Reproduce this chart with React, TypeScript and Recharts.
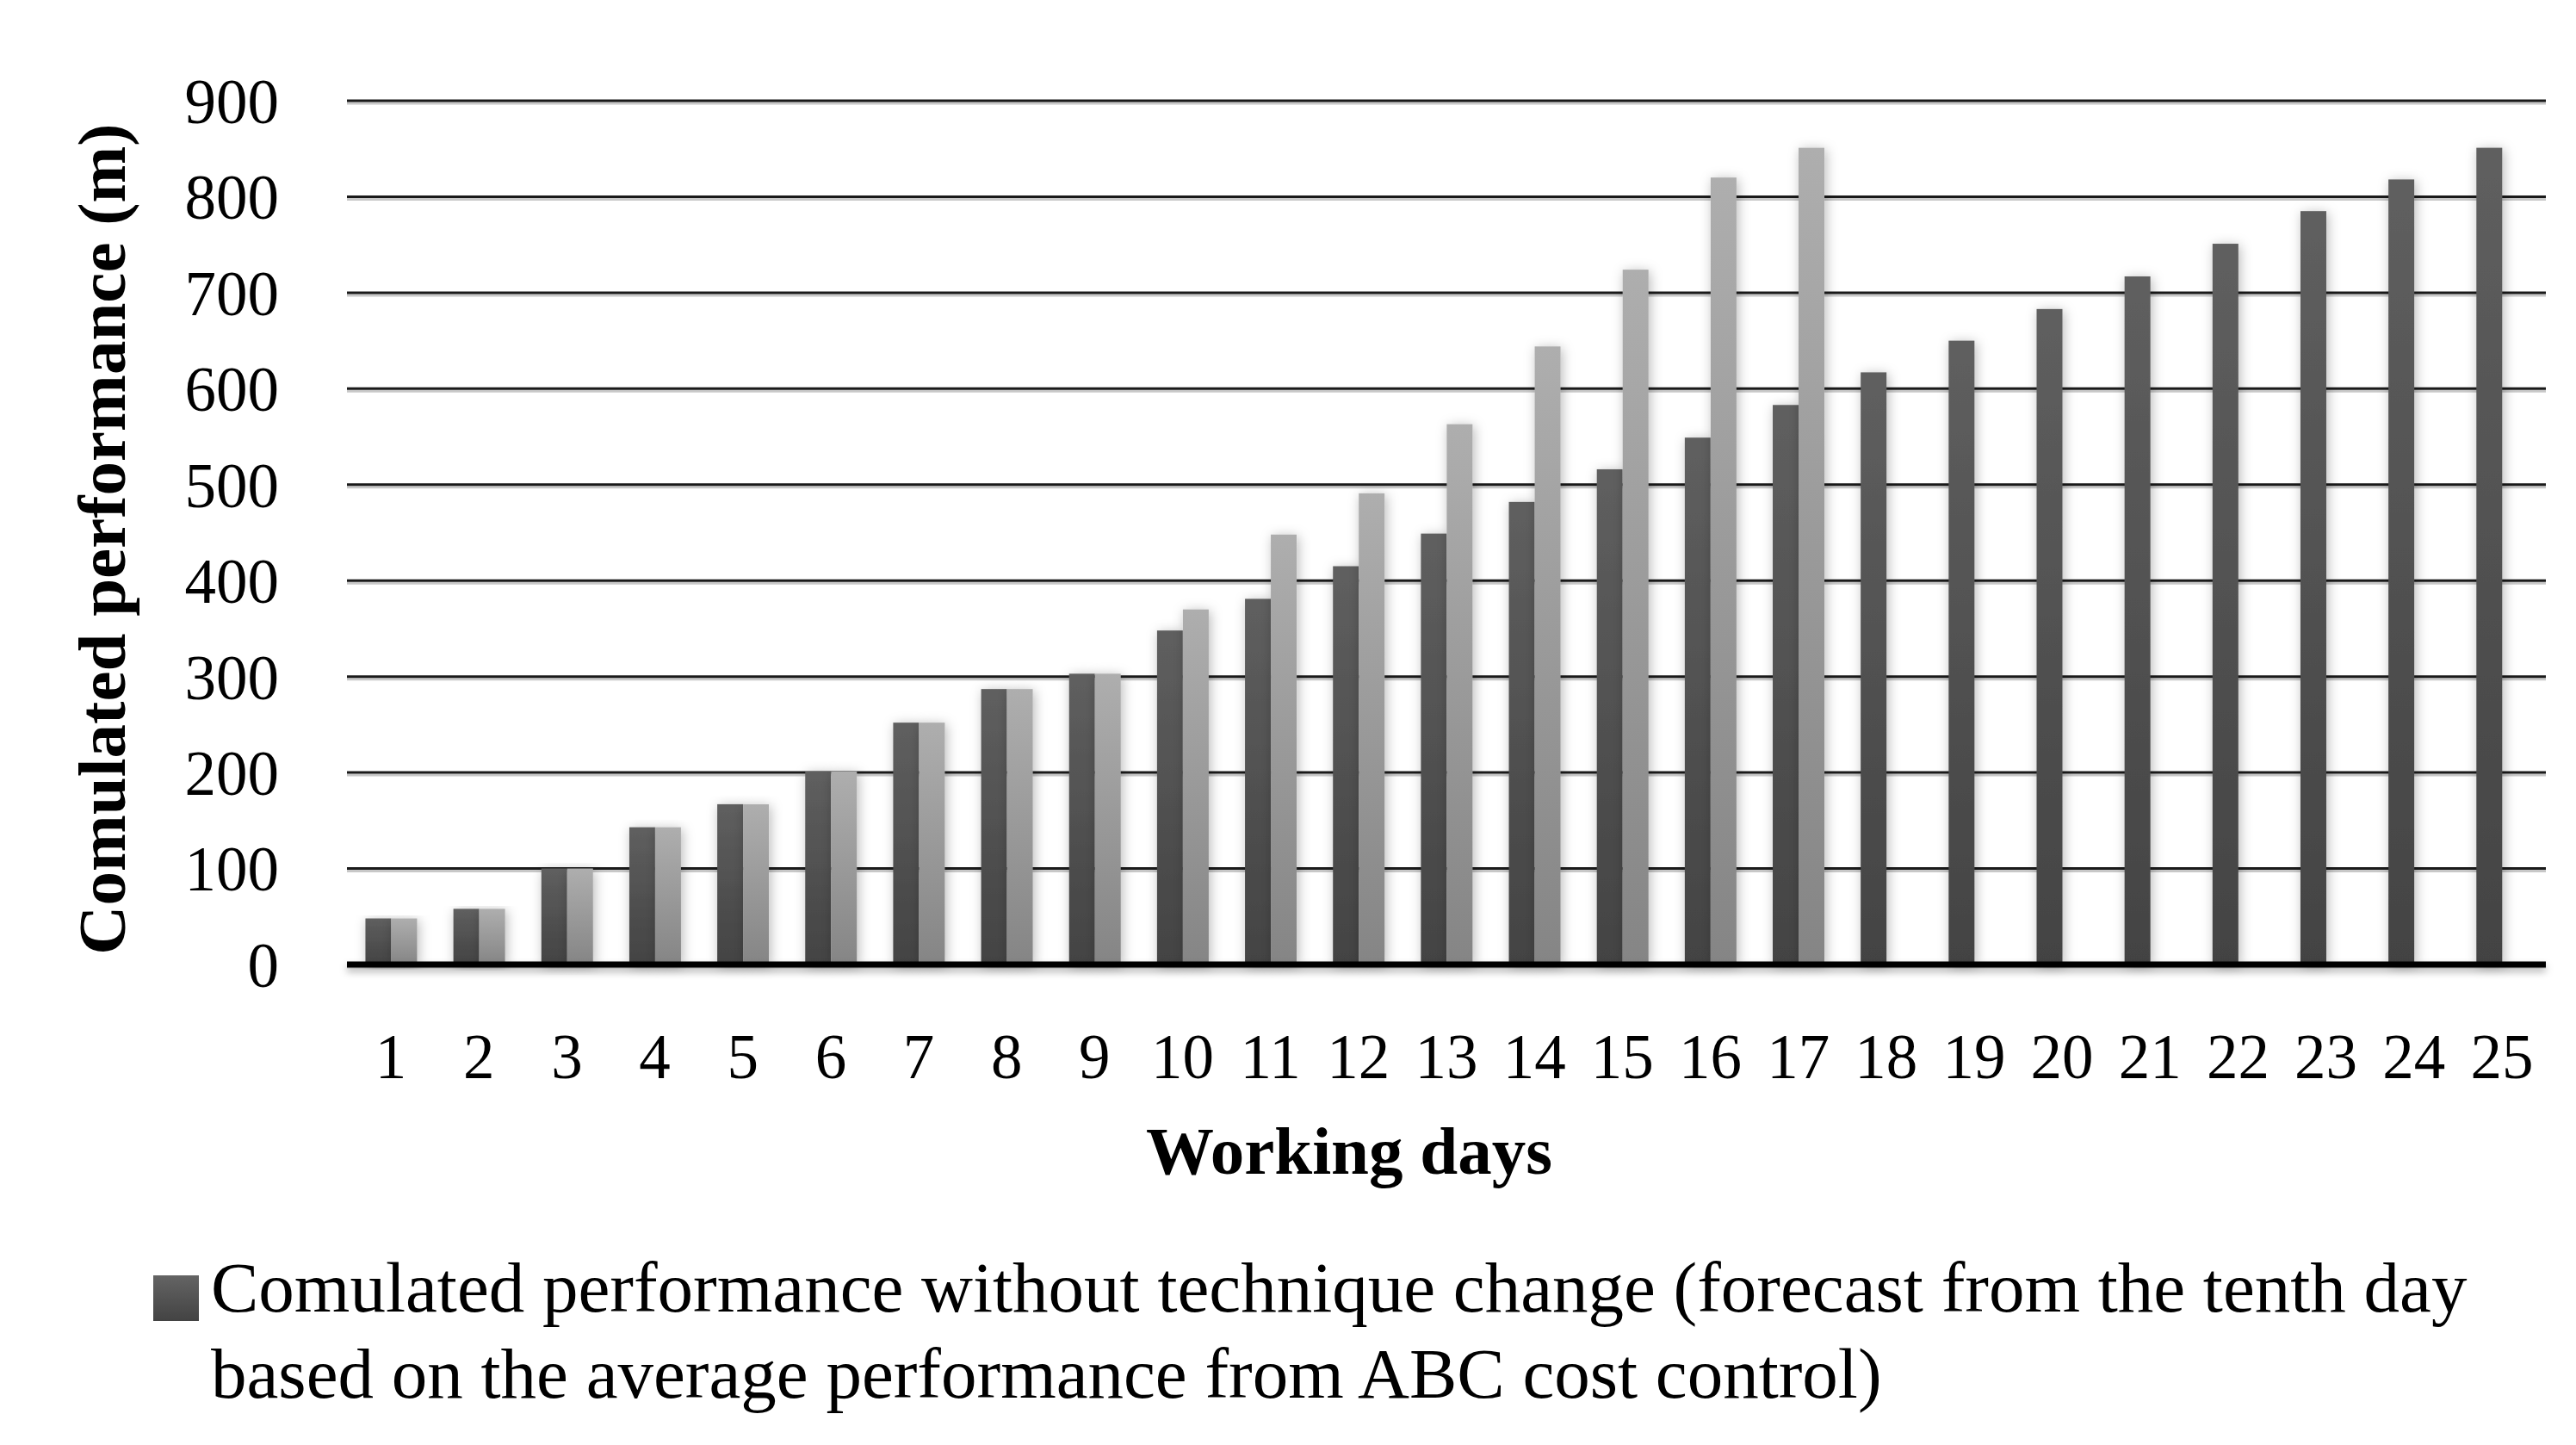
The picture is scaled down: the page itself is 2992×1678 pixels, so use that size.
import React from "react";
import {
  Bar,
  BarChart,
  CartesianGrid,
  Legend,
  XAxis,
  YAxis,
} from "recharts";

const days = [
  "1", "2", "3", "4", "5", "6", "7", "8", "9", "10", "11", "12", "13",
  "14", "15", "16", "17", "18", "19", "20", "21", "22", "23", "24", "25",
];

// dark bars: no technique change (forecast from day 10)
const withoutChange = [
  48, 58, 100, 143, 167, 201, 252, 287, 303, 348, 381, 415, 449, 482, 516,
  549, 583, 617, 650, 683, 717, 751, 785, 818, 851,
];

// light bars: with technique change
const withChange = [
  48, 58, 100, 143, 167, 201, 252, 287, 303, 370, 448, 491, 563, 644, 724,
  820, 851, null, null, null, null, null, null, null, null,
];

const yTicks = [0, 100, 200, 300, 400, 500, 600, 700, 800, 900];

const legendLines = [
  "Comulated performance without technique change (forecast from the tenth day",
  "based on the average performance from ABC cost control)",
];

const data = days.map((d, i) => ({
  day: d,
  without: withoutChange[i],
  with: withChange[i],
}));

const FONT = '"Liberation Serif", "Times New Roman", serif';

const ShadowBar = (props: any) => {
  const { x, y, width, height, fill } = props;
  if (!height || height <= 0) return null;
  return (
    <rect
      x={x}
      y={y}
      width={width}
      height={height}
      fill={fill}
      filter="url(#barShadow)"
    />
  );
};

const GridLine = (props: any) => {
  const { x1, x2, y1, y2 } = props;
  return (
    <g key={props.key ?? `g-${y1}`}>
      <line x1={x1} x2={x2} y1={y1 + 3} y2={y2 + 3} stroke="#c8c8c8" strokeWidth={3} />
      <line x1={x1} x2={x2} y1={y1} y2={y2} stroke="#1a1a1a" strokeWidth={3} />
    </g>
  );
};

const LegendBox = () => (
  <div style={{ position: "relative", width: 2992, height: 250 }}>
    <div
      style={{
        position: "absolute",
        left: 178,
        top: 53,
        width: 53,
        height: 53,
        background: "linear-gradient(#646464, #434343)",
      }}
    />
    <div
      style={{
        position: "absolute",
        left: 245,
        top: 17,
        fontSize: 83,
        lineHeight: "100px",
        color: "#000",
        whiteSpace: "nowrap",
        fontFamily: FONT,
      }}
    >
      {legendLines[0]}
      <br />
      {legendLines[1]}
    </div>
  </div>
);

export default function App() {
  return (
    <div
      style={{
        position: "absolute",
        left: 0,
        top: 0,
        width: 2992,
        height: 1678,
        background: "#fff",
        fontFamily: FONT,
        overflow: "hidden",
      }}
    >
      <BarChart
        width={2992}
        height={1678}
        data={data}
        margin={{ top: 117, right: 35, bottom: 0, left: 0 }}
        barCategoryGap="21%"
        barGap={0}
      >
        <defs>
          <linearGradient id="darkFill" x1="0" y1="0" x2="0" y2="1">
            <stop offset="0%" stopColor="#5f5f5f" />
            <stop offset="100%" stopColor="#434343" />
          </linearGradient>
          <linearGradient id="lightFill" x1="0" y1="0" x2="0" y2="1">
            <stop offset="0%" stopColor="#aeaeae" />
            <stop offset="100%" stopColor="#858585" />
          </linearGradient>
          <filter id="barShadow" x="-60%" y="-5%" width="220%" height="115%">
            <feDropShadow dx="2" dy="2" stdDeviation="7" floodColor="#000" floodOpacity="0.28" />
          </filter>
          <filter
            id="axisShadow"
            filterUnits="userSpaceOnUse"
            x={0}
            y={1000}
            width={2992}
            height={300}
          >
            <feDropShadow dx="0" dy="5" stdDeviation="4" floodColor="#000" floodOpacity="0.3" />
          </filter>
        </defs>
        <CartesianGrid vertical={false} horizontal={GridLine} />
        <XAxis
          dataKey="day"
          interval={0}
          height={308}
          tickLine={false}
          tickSize={0}
          tickMargin={80}
          axisLine={{ stroke: "#000", strokeWidth: 7, filter: "url(#axisShadow)" }}
          tick={{ fill: "#000", fontSize: 73, fontFamily: FONT }}
          label={{
            content: () => (
              <text
                x={1567}
                y={1363}
                textAnchor="middle"
                fontSize={79}
                fontWeight="bold"
                fontFamily={FONT}
                fill="#000"
              >
                Working days
              </text>
            ),
          }}
        />
        <YAxis
          width={403}
          domain={[0, 900]}
          ticks={yTicks}
          interval={0}
          axisLine={false}
          tickLine={false}
          tickSize={0}
          tickMargin={79}
          tick={{ fill: "#000", fontSize: 73, fontFamily: FONT }}
          label={{
            content: () => (
              <text
                x={145}
                y={626}
                transform="rotate(-90 145 626)"
                textAnchor="middle"
                fontSize={79}
                fontWeight="bold"
                fontFamily={FONT}
                fill="#000"
              >
                Comulated performance (m)
              </text>
            ),
          }}
        />
        <Legend
          verticalAlign="bottom"
          align="left"
          wrapperStyle={{ left: 0, bottom: 0 }}
          content={LegendBox}
        />
        <Bar
          dataKey="without"
          name="Comulated performance without technique change"
          fill="url(#darkFill)"
          shape={ShadowBar}
          isAnimationActive={false}
        />
        <Bar
          dataKey="with"
          name="Comulated performance with technique change"
          fill="url(#lightFill)"
          shape={ShadowBar}
          isAnimationActive={false}
        />
      </BarChart>
    </div>
  );
}
